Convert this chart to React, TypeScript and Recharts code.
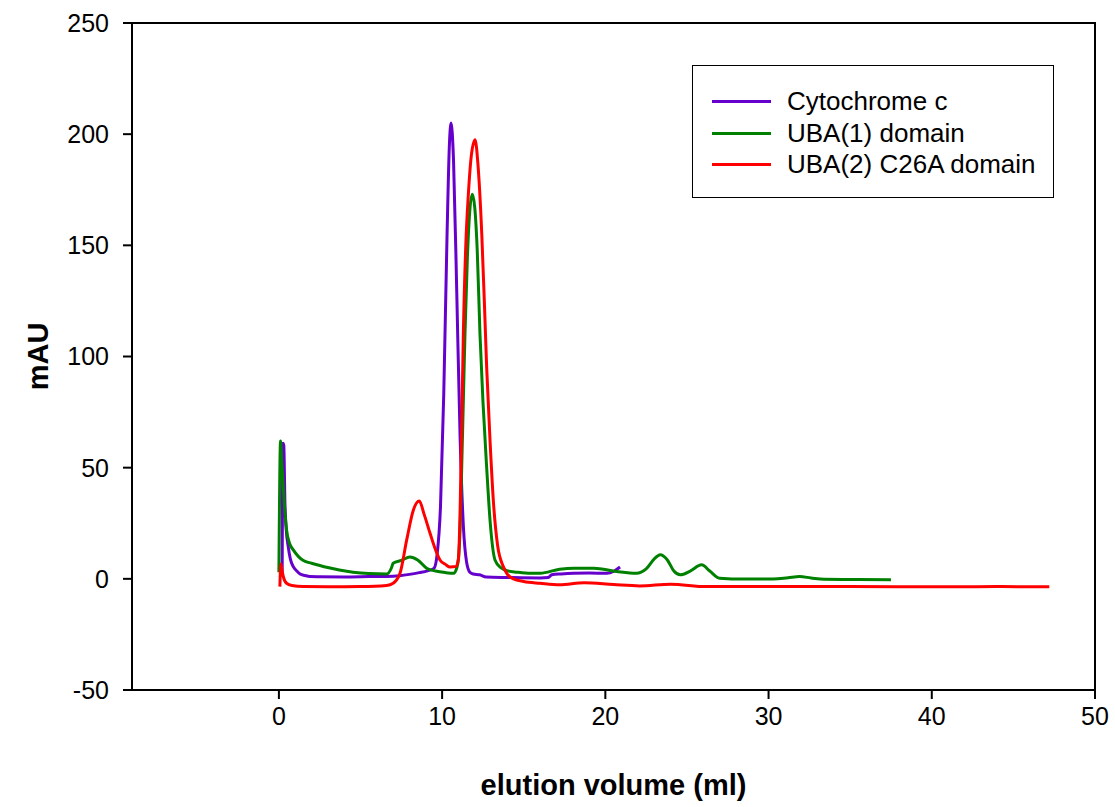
import React from 'react';
import {
  LineChart,
  Line,
  XAxis,
  YAxis,
  Legend,
  ReferenceArea,
  Label,
} from 'recharts';

// elution volume (ml) / absorbance (mAU)
const cytoX = [0.2, 0.25, 0.3, 0.37, 0.45, 0.57, 0.7, 0.88, 1.1, 1.3, 1.6, 1.9, 2.5, 4, 5.5, 7, 7.4, 8, 8.6, 9.1, 9.5, 9.7, 9.9, 10.1, 10.3, 10.45, 10.55, 10.7, 10.9, 11.1, 11.3, 11.5, 11.7, 11.9, 12.3, 12.7, 14, 16, 16.5, 16.72, 17.3, 18.05, 19, 20.1, 20.5, 20.9];
const cytoY = [2, 61, 60, 34, 22, 14.5, 9, 5.5, 3.5, 2.2, 1.5, 1.0, 0.9, 0.8, 1.0, 1.2, 1.4, 2, 2.8, 3.6, 4.7, 11.4, 32.5, 83, 154, 196, 205, 188, 128, 64, 24, 7.5, 3, 2.2, 1.8, 0.8, 0.6, 0.4, 0.6, 1.8, 2.2, 2.5, 2.6, 2.5, 3.3, 5.3];

const ubaX = [0, 0.1, 0.18, 0.27, 0.37, 0.47, 0.65, 0.88, 1.2, 1.5, 2.0, 2.5, 2.92, 3.7, 4.55, 5.5, 6.6, 6.9, 7.0, 7.5, 8.03, 8.5, 9.05, 9.6, 10.2, 10.7, 10.9, 11.0, 11.1, 11.2, 11.3, 11.4, 11.55, 11.7, 11.85, 12.0, 12.15, 12.32, 12.5, 12.73, 12.95, 13.24, 13.6, 13.96, 14.6, 15.4, 16.0, 17.2, 18.05, 19.3, 20.7, 21.9, 22.5, 23.0, 23.36, 23.8, 24.2, 24.6, 25.2, 25.9, 26.4, 27.0, 28.5, 30.3, 31.2, 31.9, 32.6, 33.4, 35.5, 37.5];
const ubaY = [3, 62, 52, 41.5, 30, 22, 16, 13, 10, 8.2, 7, 6, 5.2, 4, 3, 2.4, 2.2, 5, 7, 8.3, 9.8, 8.5, 4.8, 3.5, 2.8, 2.5, 5, 9, 22, 50, 80, 110, 145, 166, 173, 167, 148, 110, 80, 50, 25, 8.5, 5, 3.7, 3, 2.5, 2.5, 4.3, 4.8, 4.8, 3.3, 2.5, 4.5, 9, 10.8, 8.5, 3.5, 1.8, 3.5, 6.3, 3.5, 0.3, -0.1, -0.1, 0.5, 1.0, 0.4, -0.2, -0.3, -0.4];

const ubaC26X = [0.06, 0.12, 0.2, 0.27, 0.47, 0.8, 1.5, 3, 5, 6.6, 7.0, 7.42, 7.83, 8.24, 8.6, 8.9, 9.26, 9.6, 9.87, 10.2, 10.5, 10.85, 11.0, 11.1, 11.2, 11.3, 11.45, 11.6, 11.8, 12.02, 12.2, 12.43, 12.6, 12.73, 12.95, 13.14, 13.4, 13.75, 14.0, 14.37, 15.0, 16.0, 17.2, 18.7, 20.5, 22.1, 24.0, 26.2, 30, 35, 40, 44, 47.2];
const ubaC26Y = [-3.5, 6.7, 3.5, 1, -2, -3, -3.5, -3.6, -3.5, -3, -2, 2.5, 17.5, 31, 35, 29, 20.5, 13, 8.5, 6.5, 5.3, 5.5, 9, 30, 68, 110, 150, 172, 191, 197.5, 186, 155, 122, 95, 60, 35, 15, 5.5, 2, 0, -1.2, -2, -2.7, -1.8, -2.6, -3.2, -2.4, -3.5, -3.4, -3.5, -3.6, -3.5, -3.6];

const xTicks = [0, 10, 20, 30, 40, 50];
const yTicks = [-50, 0, 50, 100, 150, 200, 250];

const toPoints = (xs: number[], ys: number[]) => xs.map((x, i) => ({ x, y: ys[i] }));

const series = [
  { name: 'Cytochrome c', color: '#6600CC', data: toPoints(cytoX, cytoY) },
  { name: 'UBA(1) domain', color: '#008000', data: toPoints(ubaX, ubaY) },
  { name: 'UBA(2) C26A domain', color: '#FF0000', data: toPoints(ubaC26X, ubaC26Y) },
];

const font = '"Liberation Sans", Arial, sans-serif';

const LegendBox = () => (
  <div
    style={{
      width: 362,
      height: 133,
      border: '1.5px solid #000',
      background: '#fff',
      fontFamily: font,
      fontSize: 26,
      color: '#000',
      paddingTop: 20,
      boxSizing: 'border-box',
    }}
  >
    {series.map((s) => (
      <div key={s.name} style={{ display: 'flex', alignItems: 'center', height: 31.5 }}>
        <span style={{ display: 'inline-block', width: 59, height: 3, background: s.color, marginLeft: 19, marginRight: 16 }} />
        <span>{s.name}</span>
      </div>
    ))}
  </div>
);

export default function App() {
  return (
    <div style={{ position: 'absolute', left: 0, top: 0, background: '#fff' }}>
      <LineChart width={1115} height={807} margin={{ top: 23, right: 20, left: 0, bottom: 0 }}>
        <XAxis
          type="number"
          dataKey="x"
          domain={[-9, 50]}
          ticks={xTicks}
          allowDataOverflow
          height={117}
          tickSize={9}
          tickMargin={8}
          stroke="#000"
          strokeWidth={2}
          tick={{ fill: '#000', fontSize: 25, fontFamily: font }}
        >
          <Label
            value="elution volume (ml)"
            position="insideBottom"
            offset={12}
            style={{ fontSize: 29, fontWeight: 'bold', fontFamily: font, fill: '#000' }}
          />
        </XAxis>
        <YAxis
          type="number"
          dataKey="y"
          domain={[-50, 250]}
          ticks={yTicks}
          allowDataOverflow
          width={132}
          tickSize={9}
          tickMargin={14}
          stroke="#000"
          strokeWidth={2}
          tick={{ fill: '#000', fontSize: 25, fontFamily: font }}
        >
          <Label
            value="mAU"
            angle={-90}
            position="insideLeft"
            offset={38}
            style={{ fontSize: 29, fontWeight: 'bold', fontFamily: font, fill: '#000', textAnchor: 'middle' }}
          />
        </YAxis>
        <ReferenceArea x1={-9} x2={50} y1={-50} y2={250} fill="none" stroke="#000" strokeWidth={2} ifOverflow="visible" />
        {series.map((s) => (
          <Line
            key={s.name}
            data={s.data}
            dataKey="y"
            name={s.name}
            type="monotone"
            stroke={s.color}
            strokeWidth={3}
            dot={false}
            isAnimationActive={false}
          />
        ))}
        <Legend
          layout="horizontal"
          verticalAlign="middle"
          align="center"
          content={() => <LegendBox />}
          wrapperStyle={{ left: 692, top: 65, width: 363, height: 133 }}
        />
      </LineChart>
    </div>
  );
}
